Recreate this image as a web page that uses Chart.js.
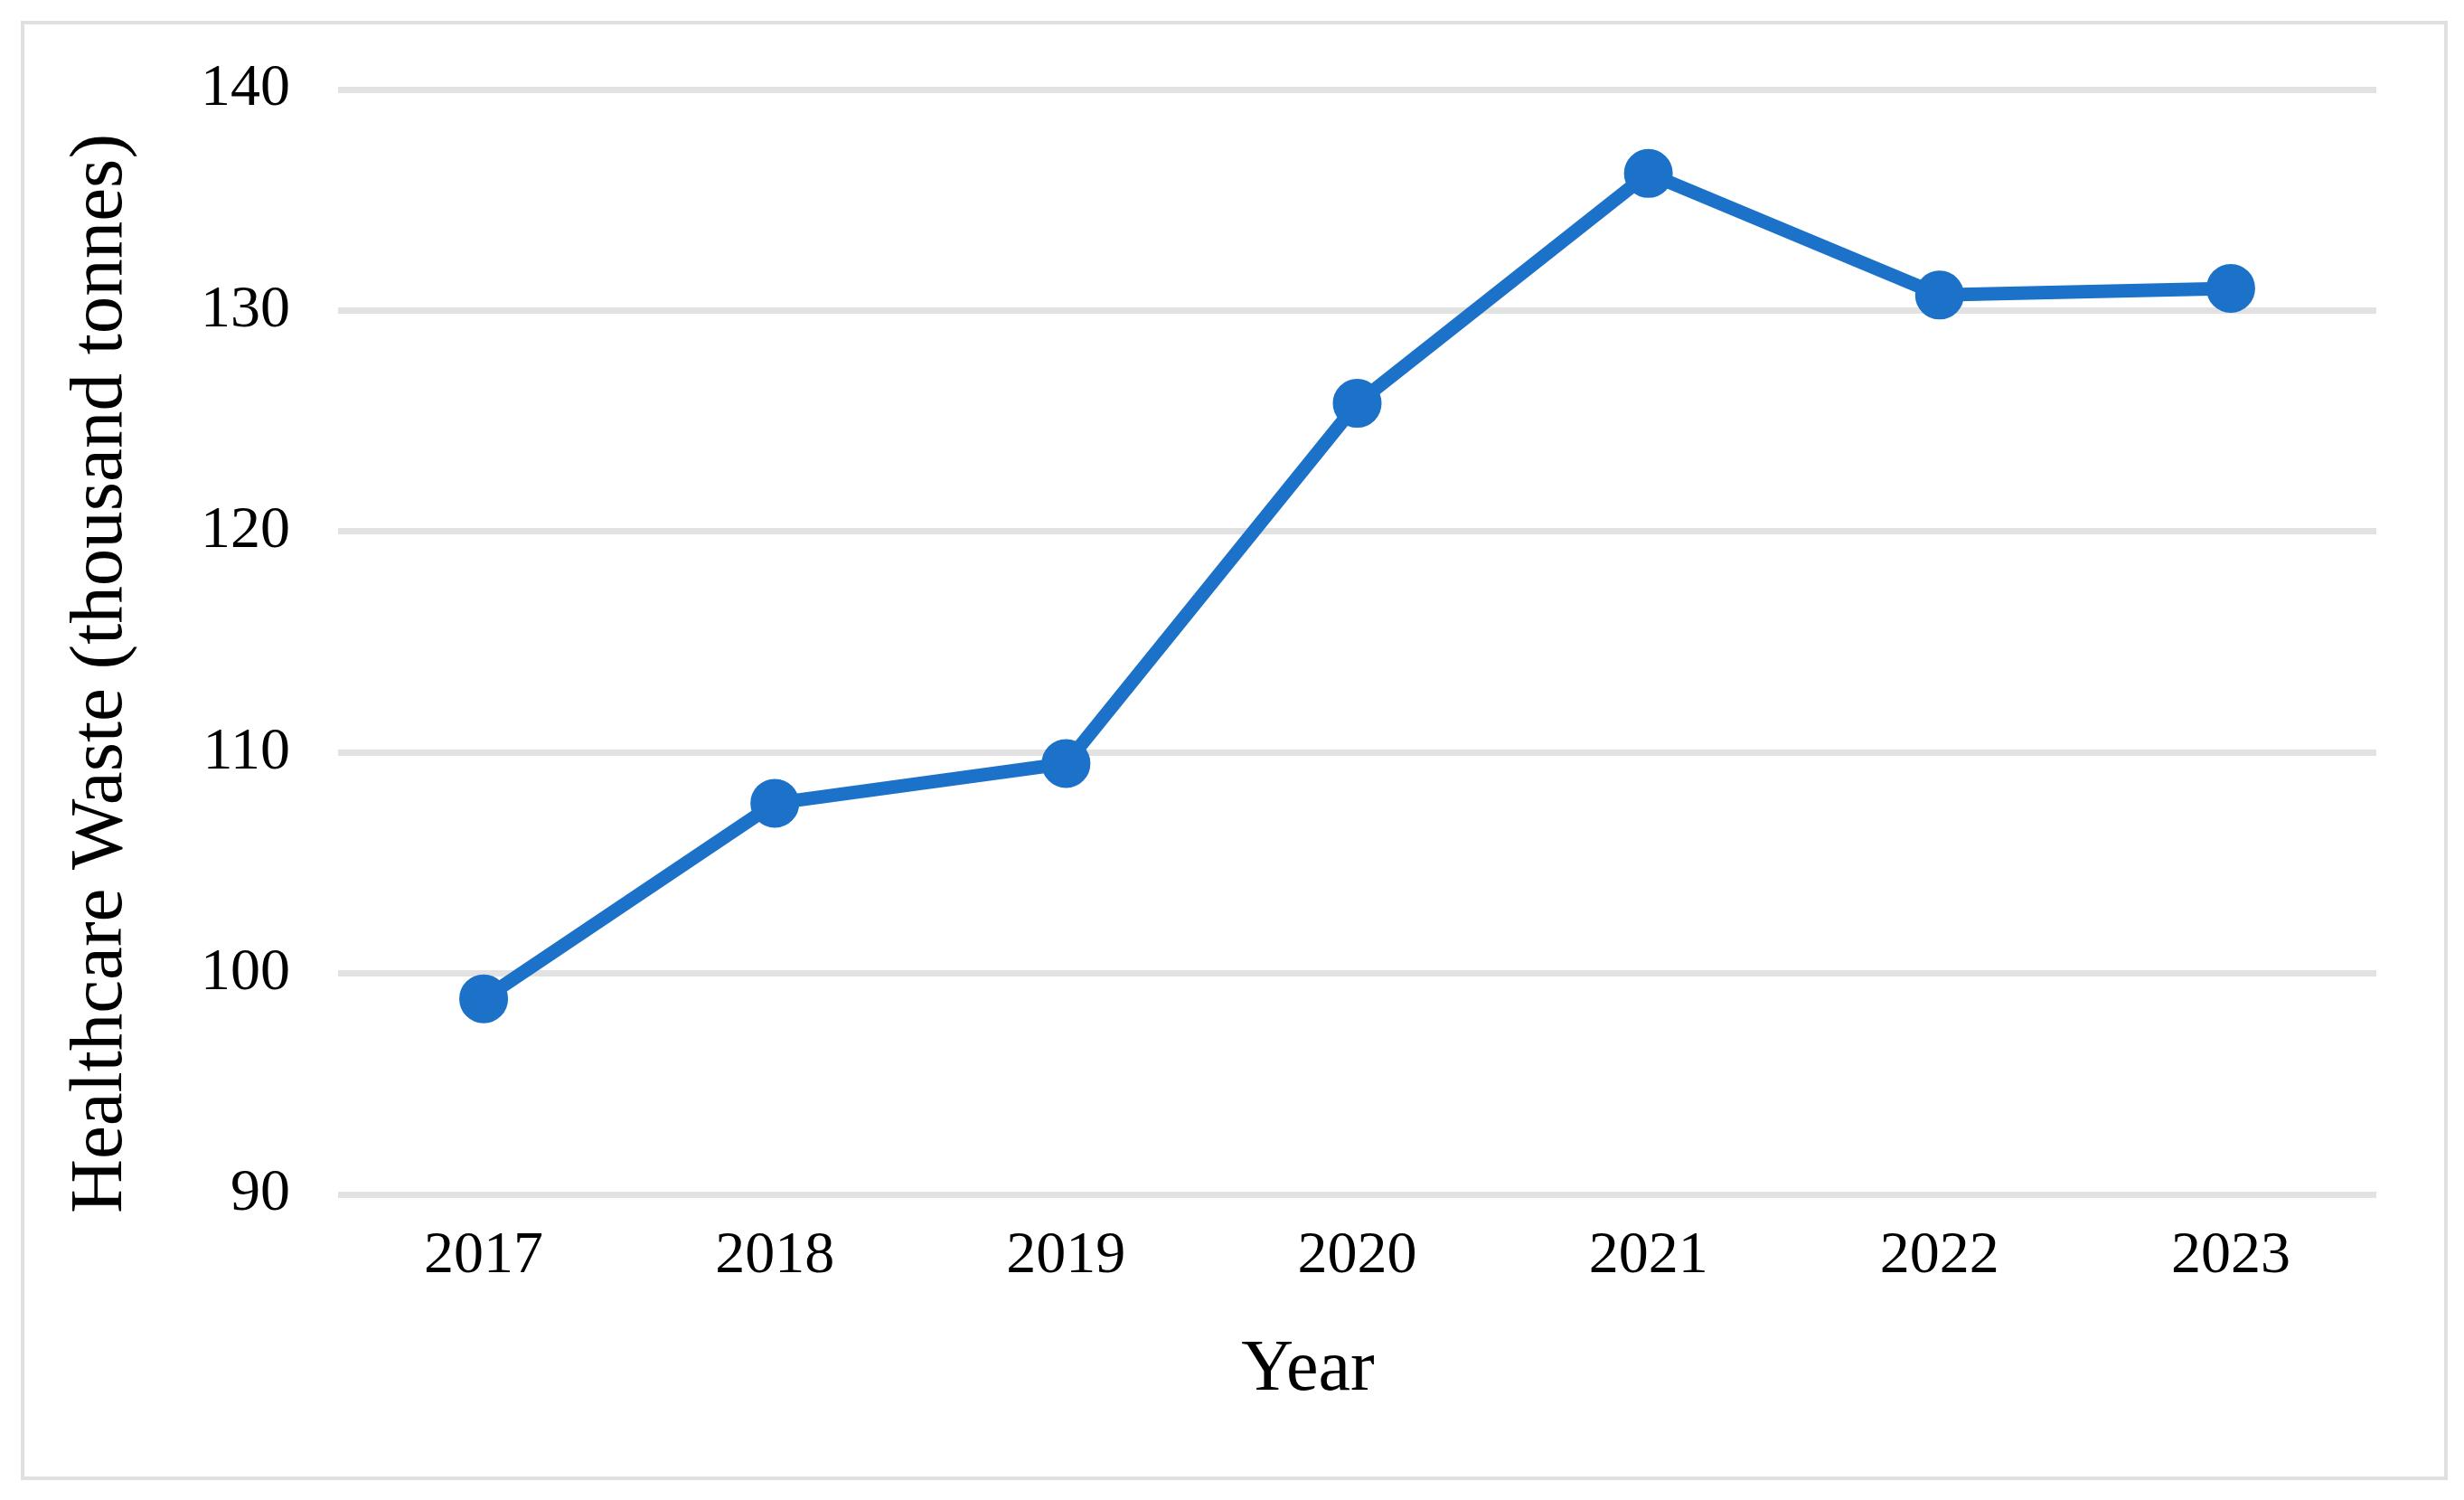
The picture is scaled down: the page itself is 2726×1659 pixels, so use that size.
<!DOCTYPE html>
<html>
<head>
<meta charset="utf-8">
<script src="https://cdn.jsdelivr.net/npm/chart.js@4"></script>
<style>
  html, body { margin: 0; padding: 0; background: #ffffff; overflow: hidden; }
  #c { display: block; }
</style>
</head>
<body>
<canvas id="c" width="2726" height="1659" style="width:2726px;height:1659px"></canvas>
<script>
const years = ['2017', '2018', '2019', '2020', '2021', '2022', '2023'];
const wasteValues = [98.85, 107.7, 109.5, 125.8, 136.2, 130.7, 131.0];
const yTicks = [90, 100, 110, 120, 130, 140];
const yTitle = 'Healthcare Waste (thousand tonnes)';
const xTitle = 'Year';

const FONT = '"Liberation Serif", "Times New Roman", serif';
const LINE_COLOR = '#1B72C8';
const GRID_COLOR = '#e2e2e2';

const framePlugin = {
  id: 'frameAndTitles',
  beforeDraw(chart) {
    const ctx = chart.ctx;
    ctx.save();
    ctx.fillStyle = '#ffffff';
    ctx.fillRect(0, 0, chart.width, chart.height);
    ctx.strokeStyle = '#e0e0e0';
    ctx.lineWidth = 4;
    ctx.strokeRect(25, 25, 2681, 1610);
    ctx.restore();
  },
  afterDraw(chart) {
    const ctx = chart.ctx;
    ctx.save();
    ctx.fillStyle = '#000000';
    ctx.font = '80px ' + FONT;
    ctx.textAlign = 'center';
    ctx.textBaseline = 'alphabetic';
    ctx.fillText(xTitle, 1447, 1537);
    ctx.restore();

    ctx.save();
    ctx.fillStyle = '#000000';
    ctx.font = '83px ' + FONT;
    ctx.textAlign = 'center';
    ctx.textBaseline = 'alphabetic';
    ctx.translate(134, 745);
    ctx.rotate(-Math.PI / 2);
    ctx.fillText(yTitle, 0, 0);
    ctx.restore();
  }
};

new Chart(document.getElementById('c'), {
  type: 'line',
  data: {
    labels: years,
    datasets: [{
      label: yTitle,
      data: wasteValues,
      borderColor: LINE_COLOR,
      backgroundColor: LINE_COLOR,
      borderWidth: 15,
      pointRadius: 26,
      pointHoverRadius: 26,
      pointBorderWidth: 2,
      pointBackgroundColor: LINE_COLOR,
      pointBorderColor: LINE_COLOR,
      tension: 0,
      fill: false
    }]
  },
  options: {
    responsive: false,
    maintainAspectRatio: false,
    animation: false,
    devicePixelRatio: 1,
    layout: { padding: { top: 99, right: 97, left: 0, bottom: 0 } },
    plugins: {
      legend: { display: false },
      tooltip: { enabled: false }
    },
    scales: {
      x: {
        type: 'category',
        offset: true,
        grid: { display: false, drawTicks: false },
        border: { display: false },
        ticks: {
          color: '#000000',
          font: { family: FONT, size: 66 },
          padding: 29,
          maxRotation: 0
        },
        afterFit(scale) { scale.height = 338; }
      },
      y: {
        min: 90,
        max: 140,
        afterBuildTicks(scale) { scale.ticks = yTicks.map(v => ({ value: v })); },
        grid: { color: GRID_COLOR, lineWidth: 7, drawTicks: false },
        border: { display: false },
        ticks: {
          color: '#000000',
          font: { family: FONT, size: 66 },
          padding: 53
        },
        afterFit(scale) { scale.width = 374; }
      }
    }
  },
  plugins: [framePlugin]
});
</script>
</body>
</html>
